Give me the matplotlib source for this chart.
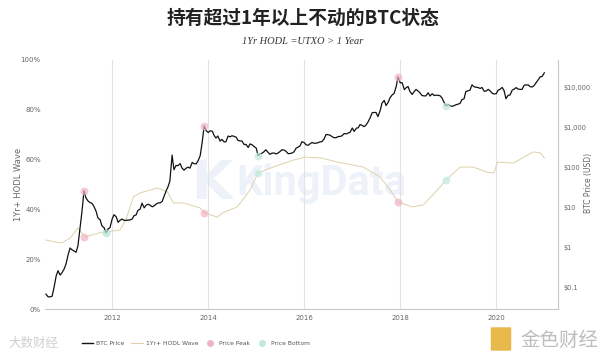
import matplotlib
matplotlib.use("Agg")
import matplotlib.pyplot as plt
import matplotlib.dates as mdates
from matplotlib.ticker import FixedLocator, FuncFormatter, NullLocator
from matplotlib.lines import Line2D
from matplotlib.patches import FancyBboxPatch
import pandas as pd

# ---------------- data ----------------
price_2010 = [0.07, 0.06, 0.06, 0.062, 0.10, 0.20, 0.27, 0.21, 0.24]
price_2011 = [0.30, 0.40, 0.70, 1.00, 0.90, 0.85, 0.78, 1.1, 3.0, 7.5, 27, 18,
              15, 13.8, 13, 11, 8.2, 5.6, 5.1, 3.6, 3.2, 2.4, 3.0, 3.2]
price_2012 = [5.3, 6.8, 6.0, 4.4, 4.9, 5.3, 4.9, 4.9, 5.0, 5.0, 5.3, 6.4,
              6.7, 8.7, 9.4, 13.2, 10.1, 11.8, 12.4, 11.8, 10.7, 11.3, 12.6, 13.3]
price_2013 = [13.5, 14.5, 20.4, 27, 34, 47, 210, 90, 116, 114, 129, 100,
              88, 98, 105, 99, 138, 128, 127, 150, 205, 420, 1120, 870]
price_2014 = [770, 850, 830, 650, 560, 630, 470, 520, 450, 450, 630, 600,
              640, 620, 590, 490, 475, 470, 385, 390, 325, 400, 380, 345]
price_2015 = [315, 205, 225, 235, 255, 285, 245, 220, 235, 237, 225, 235,
              258, 285, 280, 262, 228, 230, 237, 253, 315, 330, 360, 455]
price_2016 = [432, 380, 370, 405, 435, 415, 417, 430, 450, 455, 535, 690,
              675, 665, 605, 570, 575, 610, 615, 640, 730, 710, 750, 780]
price_2017 = [1000, 820, 990, 1010, 1220, 1170, 1080, 1180, 1420, 1750, 2400, 2450,
              2430, 1930, 2720, 4180, 4890, 3640, 4390, 5680, 6760, 7300, 10900, 19000]
price_2018 = [13400, 13600, 9100, 10200, 10900, 8250, 6900, 8000, 9200, 8500, 7500, 6500,
              6350, 6350, 7600, 6300, 7200, 6500, 6600, 6600, 6350, 5600, 4300, 3600]
price_2019 = [3850, 3600, 3480, 3620, 3830, 3920, 4140, 5100, 5350, 8200, 8550, 8800,
              12000, 10800, 10400, 10300, 9750, 10300, 8300, 8350, 9250, 8500, 7400, 7100]
price_2020 = [7200, 8800, 9380, 10350, 8550, 5400, 6600, 6650, 8800, 9350, 10200, 9450,
              9230, 9200, 11800, 11900, 11900, 10800, 10600, 11500, 13800, 16000, 19000, 19400]
price_2021 = [24000]

hodl_dates = ["2010-08-15", "2010-10-15", "2010-12-15", "2011-02-15", "2011-04-15",
              "2011-06-08", "2011-07-15", "2011-10-20", "2011-11-20", "2012-03-01",
              "2012-04-15", "2012-06-10", "2012-08-01", "2012-12-10", "2013-02-25",
              "2013-04-10", "2013-06-25", "2013-10-30", "2013-12-04", "2014-03-10",
              "2014-04-20", "2014-08-10", "2014-11-15", "2015-01-14", "2015-05-10",
              "2015-10-10", "2016-01-10", "2016-05-15", "2016-09-10", "2017-03-25",
              "2017-08-01", "2017-10-15", "2017-12-17", "2018-04-01", "2018-06-25",
              "2018-10-10", "2018-12-15", "2019-04-01", "2019-07-10", "2019-10-20",
              "2019-12-15", "2020-01-10", "2020-05-10", "2020-10-10", "2020-12-01",
              "2021-01-01"]
hodl_values = [27.7, 27.0, 26.5, 28.5, 32.5,
               28.9, 29.5, 30.9, 31.0, 31.7,
               36.0, 45.0, 46.6, 48.6, 47.0,
               42.6, 42.6, 40.6, 38.6, 36.9,
               38.6, 41.0, 47.8, 54.6, 57.0,
               59.8, 61.0, 60.6, 59.0, 57.0,
               53.0, 47.8, 43.0, 41.0, 41.8,
               47.8, 51.8, 57.0, 57.0, 55.0,
               54.6, 59.0, 58.6, 63.1, 62.7,
               60.6]

peak_dates = ["2011-06-01", "2013-12-01", "2017-12-15"]
peak_prices = [27, 1120, 19000]
peak_hodl = [28.9, 38.6, 43.0]
bottom_dates = ["2011-11-15", "2015-01-15", "2018-12-15"]
bottom_prices = [2.4, 205, 3600]
bottom_hodl = [31.0, 54.6, 51.8]

x_ticks = ["2012", "2014", "2016", "2018", "2020"]
left_ticks = [0, 20, 40, 60, 80, 100]
right_ticks = [0.1, 1, 10, 100, 1000, 10000]
right_labels = ["$0.1", "$1", "$10", "$100", "$1,000", "$10,000"]

title = "持有超过1年以上不动的BTC状态"
subtitle = "1Yr HODL =UTXO > 1 Year"

# ---------------- build series ----------------
prices = (price_2010 + price_2011 + price_2012 + price_2013 + price_2014 + price_2015
          + price_2016 + price_2017 + price_2018 + price_2019 + price_2020 + price_2021)
price_dates = pd.date_range("2010-08-15", periods=len(prices), freq="SMS")
hd = pd.to_datetime(hodl_dates)
pkd = pd.to_datetime(peak_dates)
btd = pd.to_datetime(bottom_dates)

# ---------------- figure ----------------
plt.rcParams["font.family"] = ["DejaVu Sans", "Noto Sans CJK SC"]
W, H = 600, 353
fig = plt.figure(figsize=(6.0, 3.53), dpi=100)
fig.patch.set_facecolor("white")

L, R, B, T = 45, 558, 309, 60
ax1 = fig.add_axes([L / W, 1 - B / H, (R - L) / W, (B - T) / H])
ax2 = ax1.twinx()

grey_txt = "#666666"
pink = "#f0b3c3"
green = "#bfe9dc"
wm = "#edf2fa"

# watermark (behind data)
ax1.text(236 / W, 1 - 184 / H, "KingData", transform=fig.transFigure, fontsize=30,
         color=wm, ha="left", va="center", zorder=0, family="Roboto", fontweight="bold")
ax1.text(212 / W, 1 - 184 / H, "K", transform=fig.transFigure, fontsize=38,
         fontweight="bold", color=wm, ha="center", va="center", zorder=0,
         family="DejaVu Sans")

# HODL line
ax1.plot(hd, hodl_values, color="#ddd1ab", lw=0.7, zorder=2)
ax1.scatter(pkd, peak_hodl, s=32, color=pink, alpha=0.7, lw=0, zorder=3)
ax1.scatter(btd, bottom_hodl, s=32, color=green, alpha=0.7, lw=0, zorder=3)

# price line
ax2.plot(price_dates, prices, color="#111111", lw=0.9, zorder=3)
ax2.scatter(pkd, peak_prices, s=32, color=pink, alpha=0.7, lw=0, zorder=4)
ax2.scatter(btd, bottom_prices, s=32, color=green, alpha=0.7, lw=0, zorder=4)

# axes scales
xmin = pd.Timestamp("2010-08-08")
xmax = pd.Timestamp("2021-04-15")
ax1.set_xlim(xmin, xmax)
ax1.set_ylim(0, 100)
ax2.set_yscale("log")
ax2.set_ylim(0.0298, 50119)

ax1.xaxis.set_major_locator(FixedLocator(mdates.date2num(pd.to_datetime(x_ticks))))
ax1.xaxis.set_major_formatter(FuncFormatter(lambda v, p: mdates.num2date(v).strftime("%Y")))
ax1.tick_params(axis="x", labelsize=5, colors=grey_txt, length=0, pad=4)
ax1.xaxis.grid(True, color="#e3e3e3", lw=0.8)
ax1.set_axisbelow(True)

ax1.yaxis.set_major_locator(FixedLocator(left_ticks))
ax1.yaxis.set_major_formatter(FuncFormatter(lambda v, p: f"{v:.0f}%"))
ax1.tick_params(axis="y", labelsize=5, colors=grey_txt, length=0, pad=3)

ax2.yaxis.set_major_locator(FixedLocator(right_ticks))
ax2.yaxis.set_minor_locator(NullLocator())
ax2.set_yticklabels(right_labels)
ax2.tick_params(axis="y", labelsize=4.8, colors=grey_txt, length=0, pad=4)

for s in ["top", "left", "right"]:
    ax1.spines[s].set_visible(False)
ax1.spines["bottom"].set_color("#c8c8c8")
for s in ["top", "left", "bottom"]:
    ax2.spines[s].set_visible(False)
ax2.spines["right"].set_color("#c8c8c8")

ax1.set_ylabel("1Yr+ HODL Wave", fontsize=6, color=grey_txt)
ax1.yaxis.set_label_coords(-22 / (R - L), 0.5)
fig.text(589 / W, 1 - 183 / H, "BTC Price (USD)", rotation=90, fontsize=5.5,
         color=grey_txt, ha="center", va="center")

# titles
fig.text(0.505, 1 - 18 / H, title, fontsize=13.5, fontweight="bold",
         family=["Noto Sans CJK SC", "DejaVu Sans"], color="#222222",
         ha="center", va="center")
fig.text(0.505, 1 - 42 / H, subtitle, fontsize=7.5, style="italic",
         family="Liberation Serif", color="#333333", ha="center", va="center")

# legend
handles = [Line2D([], [], color="#111111", lw=1),
           Line2D([], [], color="#ddd1ab", lw=0.8),
           Line2D([], [], ls="", marker="o", ms=5, mfc=pink, mec="none"),
           Line2D([], [], ls="", marker="o", ms=5, mfc=green, mec="none")]
labels = ["BTC Price", "1Yr+ HODL Wave", "Price Peak", "Price Bottom"]
fig.legend(handles, labels, loc="center", bbox_to_anchor=(196 / W, 1 - 343 / H),
           ncol=4, frameon=False, fontsize=4.3, labelcolor="#555555",
           handlelength=1.9, handletextpad=0.5, columnspacing=1.1)

# corner watermarks
fig.text(8 / W, 1 - 343 / H, "大数财经", fontsize=9, color="#d0d0d0",
         family=["Noto Sans CJK SC"], ha="left", va="center")
fig.patches.append(FancyBboxPatch((492 / W, 1 - 350 / H), 18 / W, 22 / H,
                                  boxstyle="round,pad=0.002", transform=fig.transFigure,
                                  fc="#e8b84a", ec="none", figure=fig))
fig.text(520 / W, 1 - 340 / H, "金色财经", fontsize=14, color="#bdbdbd",
         family=["Noto Sans CJK SC"], ha="left", va="center")

fig.savefig("out.png", dpi=100)
